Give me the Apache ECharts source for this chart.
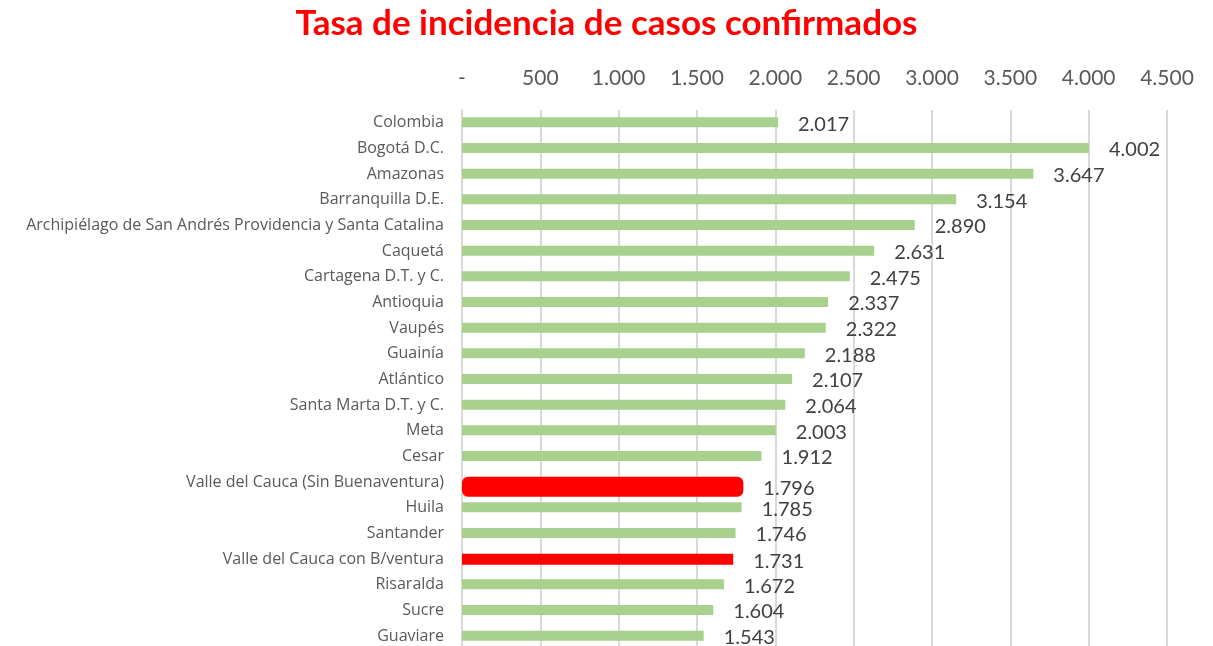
<!DOCTYPE html>
<html lang="es">
<head>
    <meta charset="UTF-8">
    <title>Tasa de incidencia de casos confirmados</title>
    <script src="https://cdn.jsdelivr.net/npm/echarts/dist/echarts.min.js"></script>
    <style>
        body { margin: 0; background: #fff; }
        #chart { width: 1213px; height: 646px; }
    </style>
</head>
<body>
    <div id="chart"></div>
    <script>
        const regiones = [
            'Colombia', 'Bogotá D.C.', 'Amazonas', 'Barranquilla D.E.',
            'Archipiélago de San Andrés Providencia y Santa Catalina', 'Caquetá',
            'Cartagena D.T. y C.', 'Antioquia', 'Vaupés', 'Guainía', 'Atlántico',
            'Santa Marta D.T. y C.', 'Meta', 'Cesar', 'Valle del Cauca (Sin Buenaventura)',
            'Huila', 'Santander', 'Valle del Cauca con B/ventura', 'Risaralda', 'Sucre', 'Guaviare'
        ];
        const tasas = [2017, 4002, 3647, 3154, 2890, 2631, 2475, 2337, 2322, 2188, 2107,
                       2064, 2003, 1912, 1796, 1785, 1746, 1731, 1672, 1604, 1543];
        // which rows are highlighted in red
        const destacadoGrueso = ['Valle del Cauca (Sin Buenaventura)'];
        const destacadoFino = ['Valle del Cauca con B/ventura'];

        const fmt = v => v === 0 ? '-' : v.toString().replace(/\B(?=(\d{3})+(?!\d))/g, '.');

        const pick = test => tasas.map((v, i) => test(regiones[i]) ? v : '-');
        const etiqueta = {
            show: true,
            position: 'right',
            distance: 20,
            offset: [0, 2],
            fontFamily: 'Lato',
            fontSize: 20,
            color: '#404040',
            formatter: p => fmt(p.value)
        };

        const chart = echarts.init(document.getElementById('chart'));
        chart.setOption({
            animation: false,
            title: {
                text: 'Tasa de incidencia de casos confirmados',
                left: 'center',
                top: 1,
                textStyle: { color: '#ff0000', fontFamily: 'Lato', fontWeight: 'bold', fontSize: 35 }
            },
            grid: { left: 462, right: 46, top: 110, bottom: -3, outerBoundsMode: 'none', containLabel: false },
            xAxis: {
                type: 'value',
                position: 'top',
                min: 0,
                max: 4500,
                interval: 500,
                axisLine: { show: false },
                axisTick: { show: false },
                axisLabel: {
                    formatter: fmt,
                    margin: 21,
                    fontFamily: 'Lato',
                    fontSize: 21,
                    color: '#595959'
                },
                splitLine: { lineStyle: { color: '#d9d9d9', width: 2 } }
            },
            yAxis: {
                type: 'category',
                inverse: true,
                data: regiones,
                axisLine: { lineStyle: { color: '#d9d9d9', width: 2 } },
                axisTick: { show: false },
                axisLabel: {
                    margin: 18,
                    fontFamily: 'Open Sans',
                    fontSize: 16,
                    color: '#595959'
                }
            },
            series: [
                {
                    type: 'bar',
                    barWidth: 10,
                    barGap: '-100%',
                    data: pick(n => !destacadoGrueso.includes(n) && !destacadoFino.includes(n)),
                    itemStyle: { color: '#a9d18e' },
                    label: etiqueta
                },
                {
                    type: 'bar',
                    barWidth: 20,
                    barGap: '-100%',
                    data: pick(n => destacadoGrueso.includes(n)),
                    itemStyle: { color: '#ff0000', borderRadius: 6 },
                    label: etiqueta
                },
                {
                    type: 'bar',
                    barWidth: 11,
                    barGap: '-100%',
                    data: pick(n => destacadoFino.includes(n)),
                    itemStyle: { color: '#ff0000' },
                    label: etiqueta
                }
            ]
        });
    </script>
</body>
</html>
